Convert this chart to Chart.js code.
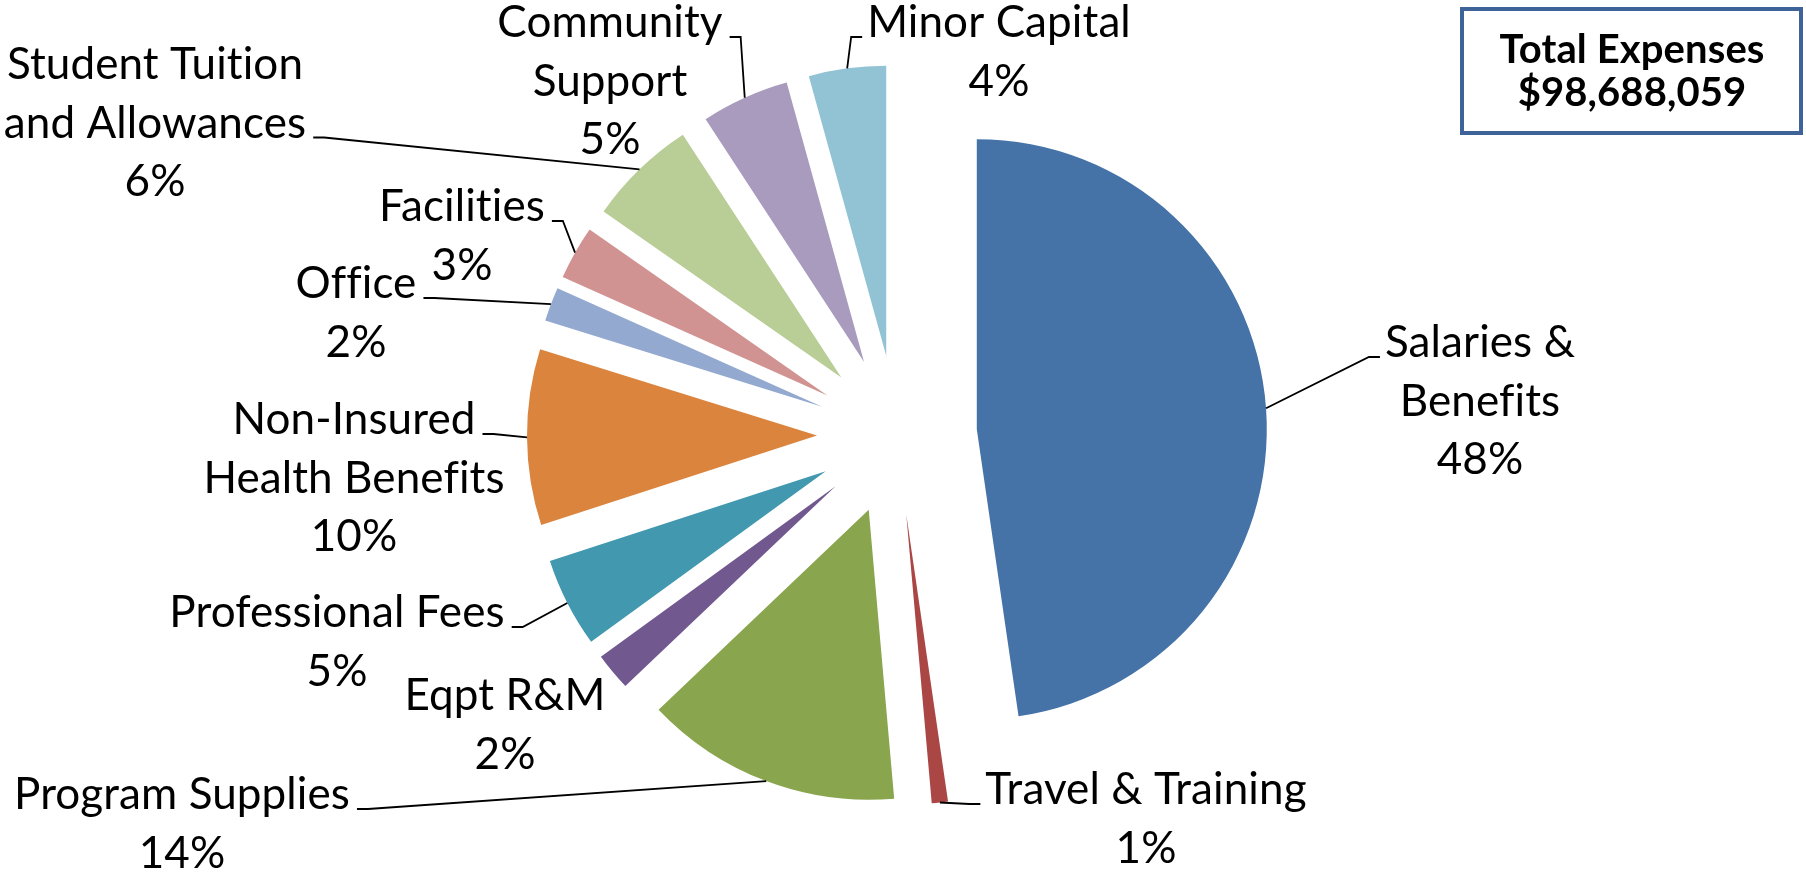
<!DOCTYPE html>
<html>
<head>
<meta charset="utf-8">
<script src="https://cdn.jsdelivr.net/npm/chart.js@4.4.1/dist/chart.umd.min.js"></script>
<style>
  html, body { margin: 0; padding: 0; background: #ffffff; }
  #wrap { width: 1806px; height: 875px; position: relative; }
</style>
</head>
<body>
<div id="wrap"><canvas id="c" width="1806" height="875"></canvas></div>
<script>
// ---------- data ----------
const categories = [
  'Salaries & Benefits', 'Travel & Training', 'Program Supplies', 'Eqpt R&M',
  'Professional Fees', 'Non-Insured Health Benefits', 'Office', 'Facilities',
  'Student Tuition and Allowances', 'Community Support', 'Minor Capital'
];
// share of total expenses (%); labels show them rounded
const shares = [47.7, 0.9, 14.3, 2.1, 5.0, 9.8, 1.9, 3.0, 6.1, 4.9, 4.3];
const labelLines = [
  ['Salaries &', 'Benefits'], ['Travel & Training'], ['Program Supplies'], ['Eqpt R&M'],
  ['Professional Fees'], ['Non-Insured', 'Health Benefits'], ['Office'], ['Facilities'],
  ['Student Tuition', 'and Allowances'], ['Community', 'Support'], ['Minor Capital']
];
const colors = ['#4572A7', '#AA4643', '#89A54E', '#71588F', '#4198AF', '#DB843D',
                '#93A9CF', '#D19392', '#B9CD96', '#A99BBD', '#91C3D5'];
const totalTitle = 'Total Expenses';
const totalValue = '$98,688,059';

// ---------- layout (label placement, not data) ----------
const labelLayout = [
  { x: 1480, y: 357, side: 'left',  line: 0 },
  { x: 1146, y: 804, side: 'left',  line: 0 },
  { x: 182,  y: 809, side: 'right', line: 0 },
  { x: 505,  y: 710, side: null,    line: 0 },
  { x: 337,  y: 627, side: 'right', line: 0 },
  { x: 354,  y: 434, side: 'right', line: 0 },
  { x: 356,  y: 298, side: 'right', line: 0 },
  { x: 462,  y: 221, side: 'right', line: 0 },
  { x: 155,  y: 79,  side: 'right', line: 1 },
  { x: 610,  y: 37,  side: 'right', line: 0 },
  { x: 999,  y: 37,  side: 'left',  line: 0 }
];
const EXPLODE = 80;
const PIE_RADIUS = 290;
const LINE_H = 58.5;
const FONT = '44px Lato';
const BOLD_FONT = 'bold 40px Lato';

const explodePlugin = {
  id: 'explode',
  afterDatasetUpdate(chart, args) {
    const meta = chart.getDatasetMeta(args.index);
    meta.data.forEach(arc => {
      const mid = (arc.startAngle + arc.endAngle) / 2;
      arc.x += Math.cos(mid) * EXPLODE;
      arc.y += Math.sin(mid) * EXPLODE;
    });
  }
};

const labelPlugin = {
  id: 'pieLabels',
  afterDraw(chart) {
    const ctx = chart.ctx;
    const meta = chart.getDatasetMeta(0);
    ctx.save();
    ctx.font = FONT;
    if ('letterSpacing' in ctx) ctx.letterSpacing = '0.1px';
    ctx.fillStyle = '#000';
    ctx.strokeStyle = '#000';
    ctx.lineWidth = 1.8;
    ctx.textAlign = 'center';
    ctx.textBaseline = 'alphabetic';
    meta.data.forEach((arc, i) => {
      const lay = labelLayout[i];
      const lines = labelLines[i].concat([Math.round(shares[i]) + '%']);
      lines.forEach((t, k) => ctx.fillText(t, lay.x, lay.y + k * LINE_H));
      if (lay.side) {
        const mid = (arc.startAngle + arc.endAngle) / 2;
        const ax = arc.x + Math.cos(mid) * arc.outerRadius;
        const ay = arc.y + Math.sin(mid) * arc.outerRadius;
        const w = ctx.measureText(lines[lay.line]).width;
        const ty = lay.y + lay.line * LINE_H;
        let attach, knee;
        if (lay.side === 'left') { attach = lay.x - w / 2 - 5; knee = attach - 11; }
        else { attach = lay.x + w / 2 + 7; knee = attach + 11; }
        ctx.beginPath();
        ctx.moveTo(ax, ay);
        ctx.lineTo(knee, ty);
        ctx.lineTo(attach, ty);
        ctx.stroke();
      }
    });
    // total box
    ctx.lineWidth = 4;
    ctx.strokeStyle = '#3D6398';
    ctx.strokeRect(1462, 9, 339, 124);
    ctx.font = BOLD_FONT;
    ctx.fillStyle = '#000';
    ctx.fillText(totalTitle, 1632, 63);
    ctx.fillText(totalValue, 1632, 106);
    ctx.restore();
  }
};

function build() {
  new Chart(document.getElementById('c'), {
    type: 'pie',
    data: {
      labels: categories,
      datasets: [{
        data: shares,
        backgroundColor: colors,
        borderWidth: 0,
        hoverOffset: 0
      }]
    },
    options: {
      responsive: false,
      animation: false,
      events: [],
      radius: PIE_RADIUS,
      layout: { padding: { left: 0, right: 12, top: 0, bottom: 5 } },
      plugins: { legend: { display: false }, tooltip: { enabled: false }, title: { display: false } }
    },
    plugins: [explodePlugin, labelPlugin]
  });
}
if (document.fonts && document.fonts.load) {
  Promise.all([document.fonts.load(FONT), document.fonts.load(BOLD_FONT)]).then(build, build);
} else { build(); }
</script>
</body>
</html>
